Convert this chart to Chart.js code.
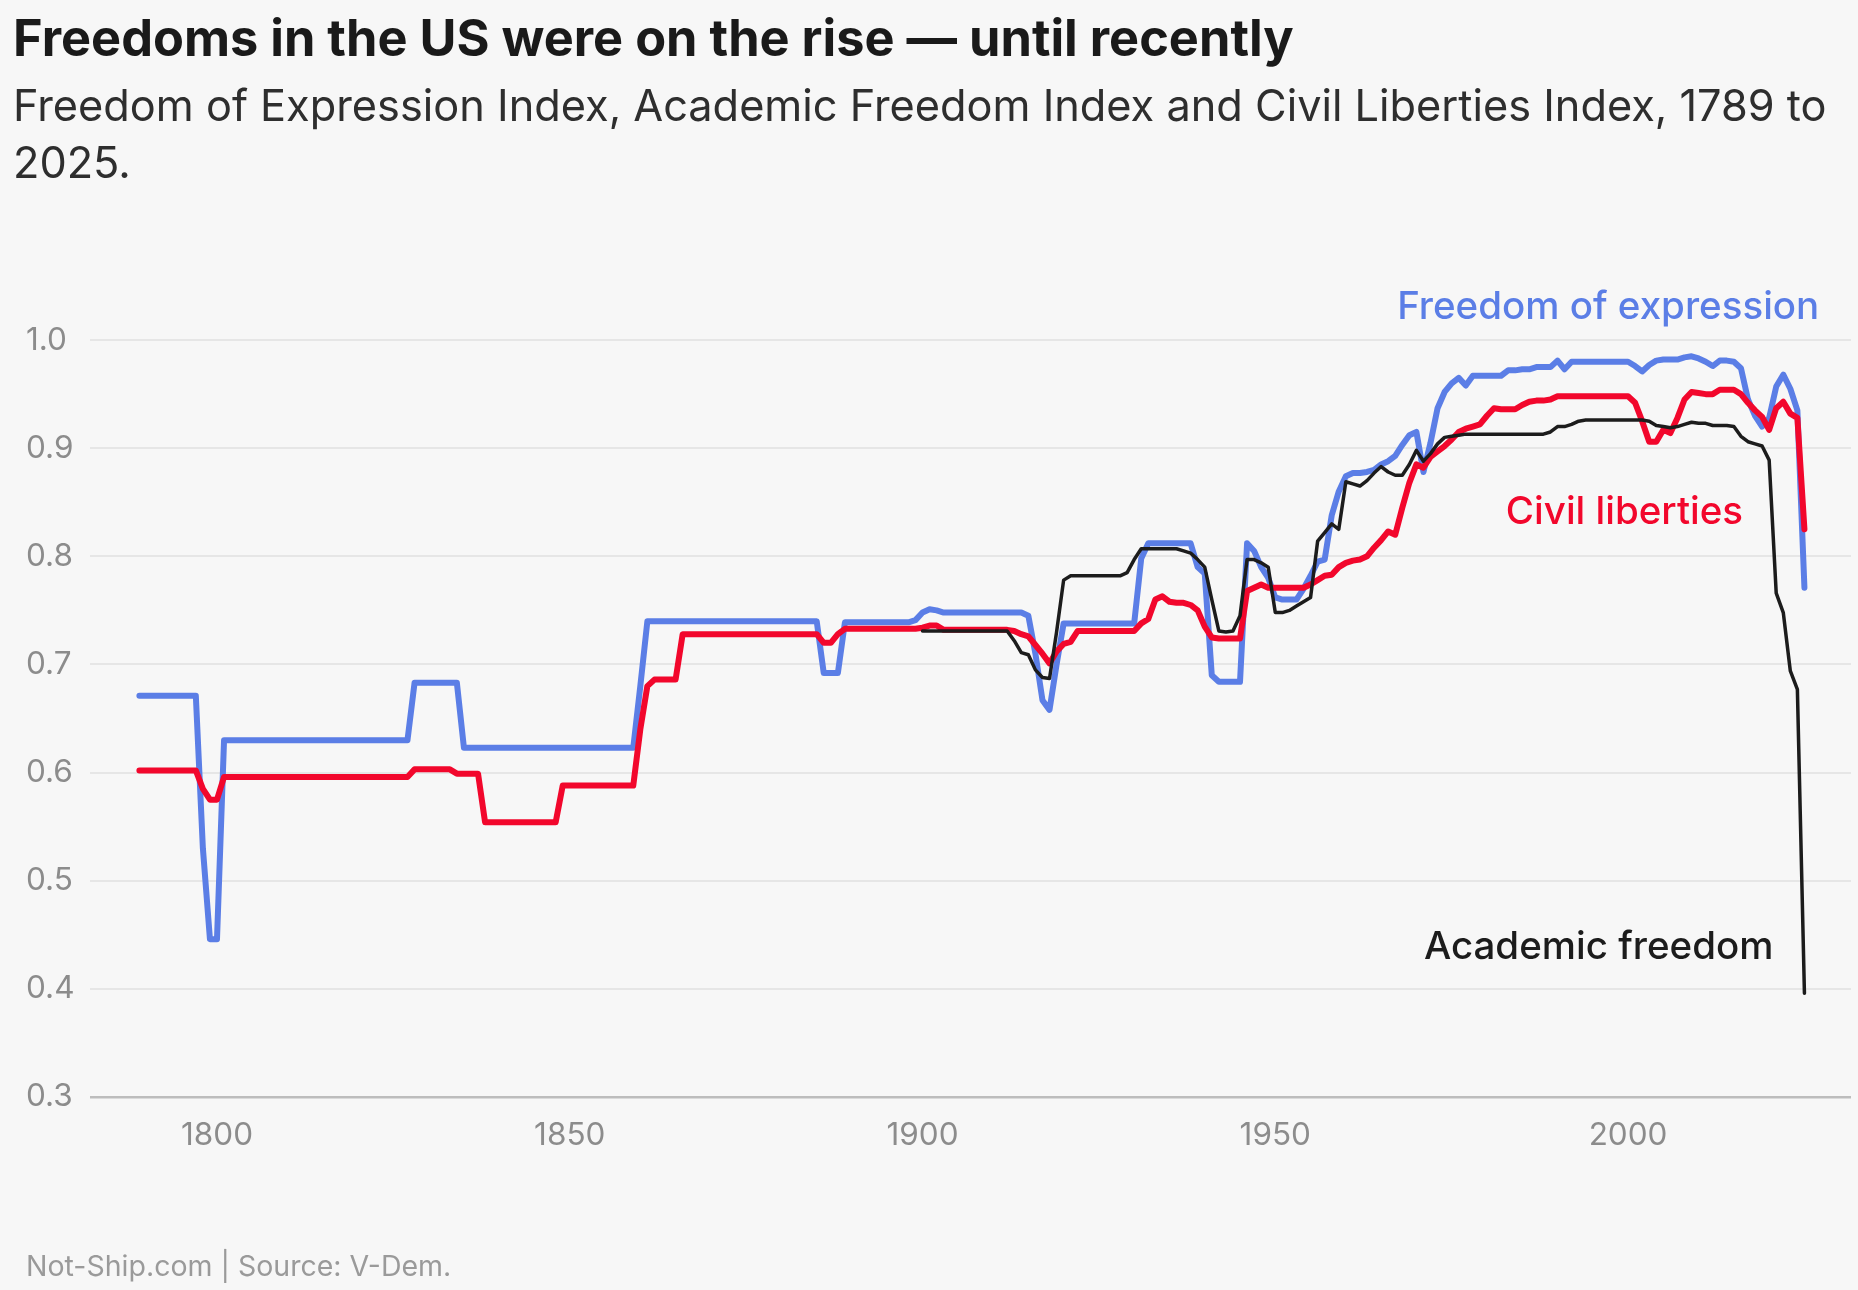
<!DOCTYPE html>
<html>
<head>
<meta charset="utf-8">
<title>Freedoms in the US</title>
<script src="https://cdn.jsdelivr.net/npm/chart.js@4.4.0/dist/chart.umd.min.js"></script>
<style>
  html, body { margin: 0; padding: 0; background: #f7f7f7; }
  #wrap { width: 1858px; height: 1290px; }
</style>
</head>
<body>
<div id="wrap"><canvas id="freedomChart" width="1858" height="1290"></canvas></div>
<script>
// V-Dem indices, one value per year
const firstYear = 1789;
const academicFirstYear = 1900;

const expression = [
  0.671,0.671,0.671,0.671,0.671,0.671,0.671,0.671,0.671,0.530, // 1789-1798
  0.446,0.446,0.630,0.630,0.630,0.630,0.630,0.630,0.630,0.630, // 1799-1808
  0.630,0.630,0.630,0.630,0.630,0.630,0.630,0.630,0.630,0.630, // 1809-1818
  0.630,0.630,0.630,0.630,0.630,0.630,0.630,0.630,0.630,0.683, // 1819-1828
  0.683,0.683,0.683,0.683,0.683,0.683,0.623,0.623,0.623,0.623, // 1829-1838
  0.623,0.623,0.623,0.623,0.623,0.623,0.623,0.623,0.623,0.623, // 1839-1848
  0.623,0.623,0.623,0.623,0.623,0.623,0.623,0.623,0.623,0.623, // 1849-1858
  0.623,0.680,0.740,0.740,0.740,0.740,0.740,0.740,0.740,0.740, // 1859-1868
  0.740,0.740,0.740,0.740,0.740,0.740,0.740,0.740,0.740,0.740, // 1869-1878
  0.740,0.740,0.740,0.740,0.740,0.740,0.740,0.692,0.692,0.692, // 1879-1888
  0.739,0.739,0.739,0.739,0.739,0.739,0.739,0.739,0.739,0.739, // 1889-1898
  0.741,0.748,0.751,0.750,0.748,0.748,0.748,0.748,0.748,0.748, // 1899-1908
  0.748,0.748,0.748,0.748,0.748,0.748,0.745,0.710,0.667,0.658, // 1909-1918
  0.700,0.738,0.738,0.738,0.738,0.738,0.738,0.738,0.738,0.738, // 1919-1928
  0.738,0.738,0.798,0.812,0.812,0.812,0.812,0.812,0.812,0.812, // 1929-1938
  0.790,0.784,0.690,0.684,0.684,0.684,0.684,0.812,0.805,0.790, // 1939-1948
  0.780,0.762,0.760,0.760,0.760,0.770,0.782,0.795,0.797,0.838, // 1949-1958
  0.860,0.874,0.877,0.877,0.878,0.880,0.885,0.888,0.893,0.903, // 1959-1968
  0.912,0.915,0.878,0.905,0.937,0.952,0.960,0.965,0.958,0.967, // 1969-1978
  0.967,0.967,0.967,0.967,0.972,0.972,0.973,0.973,0.975,0.975, // 1979-1988
  0.975,0.981,0.973,0.980,0.980,0.980,0.980,0.980,0.980,0.980, // 1989-1998
  0.980,0.980,0.976,0.971,0.977,0.981,0.982,0.982,0.982,0.984, // 1999-2008
  0.985,0.983,0.980,0.976,0.981,0.981,0.980,0.974,0.945,0.930, // 2009-2018
  0.920,0.928,0.957,0.968,0.955,0.935,0.771                    // 2019-2025
];

const civil = [
  0.602,0.602,0.602,0.602,0.602,0.602,0.602,0.602,0.602,0.585, // 1789-1798
  0.575,0.575,0.596,0.596,0.596,0.596,0.596,0.596,0.596,0.596, // 1799-1808
  0.596,0.596,0.596,0.596,0.596,0.596,0.596,0.596,0.596,0.596, // 1809-1818
  0.596,0.596,0.596,0.596,0.596,0.596,0.596,0.596,0.596,0.603, // 1819-1828
  0.603,0.603,0.603,0.603,0.603,0.599,0.599,0.599,0.599,0.554, // 1829-1838
  0.554,0.554,0.554,0.554,0.554,0.554,0.554,0.554,0.554,0.554, // 1839-1848
  0.588,0.588,0.588,0.588,0.588,0.588,0.588,0.588,0.588,0.588, // 1849-1858
  0.588,0.640,0.680,0.686,0.686,0.686,0.686,0.728,0.728,0.728, // 1859-1868
  0.728,0.728,0.728,0.728,0.728,0.728,0.728,0.728,0.728,0.728, // 1869-1878
  0.728,0.728,0.728,0.728,0.728,0.728,0.728,0.720,0.720,0.728, // 1879-1888
  0.733,0.733,0.733,0.733,0.733,0.733,0.733,0.733,0.733,0.733, // 1889-1898
  0.733,0.734,0.736,0.736,0.732,0.732,0.732,0.732,0.732,0.732, // 1899-1908
  0.732,0.732,0.732,0.732,0.731,0.728,0.726,0.718,0.710,0.701, // 1909-1918
  0.712,0.719,0.721,0.731,0.731,0.731,0.731,0.731,0.731,0.731, // 1919-1928
  0.731,0.731,0.738,0.742,0.760,0.763,0.758,0.757,0.757,0.755, // 1929-1938
  0.750,0.735,0.725,0.724,0.724,0.724,0.724,0.768,0.771,0.774, // 1939-1948
  0.771,0.771,0.771,0.771,0.771,0.771,0.774,0.778,0.782,0.783, // 1949-1958
  0.790,0.794,0.796,0.797,0.800,0.808,0.815,0.823,0.820,0.845, // 1959-1968
  0.868,0.885,0.882,0.892,0.897,0.902,0.908,0.915,0.918,0.920, // 1969-1978
  0.922,0.930,0.937,0.936,0.936,0.936,0.940,0.943,0.944,0.944, // 1979-1988
  0.945,0.948,0.948,0.948,0.948,0.948,0.948,0.948,0.948,0.948, // 1989-1998
  0.948,0.948,0.942,0.925,0.906,0.906,0.917,0.914,0.928,0.945, // 1999-2008
  0.952,0.951,0.950,0.950,0.954,0.954,0.954,0.950,0.942,0.935, // 2009-2018
  0.929,0.917,0.937,0.943,0.932,0.928,0.825                    // 2019-2025
];

const academic = [
  0.731,0.731,0.731,0.731,0.731,0.731,0.731,0.731,0.731,0.731, // 1900-1909
  0.731,0.731,0.731,0.722,0.711,0.709,0.695,0.688,0.687,0.730, // 1910-1919
  0.778,0.782,0.782,0.782,0.782,0.782,0.782,0.782,0.782,0.785, // 1920-1929
  0.797,0.807,0.807,0.807,0.807,0.807,0.807,0.805,0.803,0.797, // 1930-1939
  0.790,0.760,0.731,0.730,0.731,0.745,0.797,0.797,0.794,0.790, // 1940-1949
  0.748,0.748,0.750,0.754,0.758,0.762,0.814,0.822,0.830,0.825, // 1950-1959
  0.869,0.867,0.865,0.870,0.877,0.883,0.878,0.875,0.875,0.885, // 1960-1969
  0.898,0.888,0.895,0.904,0.910,0.911,0.912,0.913,0.913,0.913, // 1970-1979
  0.913,0.913,0.913,0.913,0.913,0.913,0.913,0.913,0.913,0.915, // 1980-1989
  0.920,0.920,0.922,0.925,0.926,0.926,0.926,0.926,0.926,0.926, // 1990-1999
  0.926,0.926,0.926,0.925,0.921,0.920,0.919,0.920,0.922,0.924, // 2000-2009
  0.923,0.923,0.921,0.921,0.921,0.920,0.911,0.906,0.904,0.902, // 2010-2019
  0.889,0.766,0.748,0.694,0.677,0.396                          // 2020-2025
];

const xTicks = [1800, 1850, 1900, 1950, 2000];
const yTicks = [0.3, 0.4, 0.5, 0.6, 0.7, 0.8, 0.9, 1.0];

const colors = {
  expression: '#5b7ee6',
  civil: '#f2072c',
  academic: '#1c1c1c'
};

function toPoints(values, startYear) {
  return values.map((v, i) => ({ x: startYear + i, y: v }));
}

// page background
const backgroundPlugin = {
  id: 'background',
  beforeDraw(chart) {
    const c = chart.ctx;
    c.save();
    c.fillStyle = '#f7f7f7';
    c.fillRect(0, 0, chart.width, chart.height);
    c.restore();
  }
};

// title, subtitle, source line and the direct labels next to the lines
const textPlugin = {
  id: 'texts',
  afterDraw(chart) {
    const c = chart.ctx;
    const xs = chart.scales.x;
    const ys = chart.scales.y;
    c.save();
    c.textBaseline = 'alphabetic';
    c.textAlign = 'left';

    c.fillStyle = '#1a1a1a';
    c.font = '700 50.5px Inter';
    c.fillText('Freedoms in the US were on the rise \u2014 until recently', 13, 56);

    c.fillStyle = '#2e2e2e';
    c.font = '400 43.3px Inter';
    c.fillText('Freedom of Expression Index, Academic Freedom Index and Civil Liberties Index, 1789 to', 13, 121);
    c.fillText('2025.', 13, 178);

    c.fillStyle = '#9a9a9a';
    c.font = '400 28.5px Inter';
    c.fillText('Not-Ship.com | Source: V-Dem.', 26, 1276);

    c.textAlign = 'right';
    c.textBaseline = 'middle';
    c.font = '500 38.5px Inter';
    c.fillStyle = colors.expression;
    c.fillText('Freedom of expression', xs.getPixelForValue(2027.1), ys.getPixelForValue(1.03));
    c.fillStyle = colors.civil;
    c.fillText('Civil liberties', xs.getPixelForValue(2016.3), ys.getPixelForValue(0.841));
    c.fillStyle = colors.academic;
    c.fillText('Academic freedom', xs.getPixelForValue(2020.6), ys.getPixelForValue(0.438));
    c.restore();
  }
};

const canvas = document.getElementById('freedomChart');
const ctx = canvas.getContext('2d');

new Chart(ctx, {
  type: 'line',
  data: {
    datasets: [
      {
        label: 'Academic freedom',
        data: toPoints(academic, academicFirstYear),
        borderColor: colors.academic,
        borderWidth: 3.5,
      },
      {
        label: 'Civil liberties',
        data: toPoints(civil, firstYear),
        borderColor: colors.civil,
        borderWidth: 6,
      },
      {
        label: 'Freedom of expression',
        data: toPoints(expression, firstYear),
        borderColor: colors.expression,
        borderWidth: 6,
      }
    ]
  },
  options: {
    responsive: false,
    animation: false,
    elements: {
      point: { radius: 0, hoverRadius: 0 },
      line: { tension: 0, fill: false, borderJoinStyle: 'round', borderCapStyle: 'round' }
    },
    layout: { padding: { top: 286, left: 26, right: 7, bottom: 123 } },
    plugins: {
      legend: { display: false },
      tooltip: { enabled: false },
      title: { display: false }
    },
    scales: {
      x: {
        type: 'linear',
        min: 1782,
        max: 2031.6,
        afterBuildTicks: (scale) => { scale.ticks = xTicks.map(v => ({ value: v })); },
        afterFit: (scale) => { scale.height = 70; },
        grid: { display: false, drawTicks: false },
        border: { display: false },
        ticks: {
          color: '#8c8c8c',
          font: { family: 'Inter', size: 31.5 },
          padding: 20,
          maxRotation: 0,
          callback: (v) => String(v)
        }
      },
      y: {
        type: 'linear',
        min: 0.3,
        max: 1.05,
        afterBuildTicks: (scale) => { scale.ticks = yTicks.map(v => ({ value: v })); },
        afterFit: (scale) => { scale.width = 64; },
        grid: {
          drawTicks: false,
          color: (c) => Math.abs(c.tick.value - 0.3) < 1e-6 ? '#bdbdbd' : '#e6e6e6',
          lineWidth: (c) => Math.abs(c.tick.value - 0.3) < 1e-6 ? 2.5 : 2
        },
        border: { display: false },
        ticks: {
          crossAlign: 'far',
          color: '#8c8c8c',
          font: { family: 'Inter', size: 31.5 },
          padding: 0,
          callback: (v) => Number(v).toFixed(1)
        }
      }
    }
  },
  plugins: [backgroundPlugin, textPlugin]
});
</script>
</body>
</html>
